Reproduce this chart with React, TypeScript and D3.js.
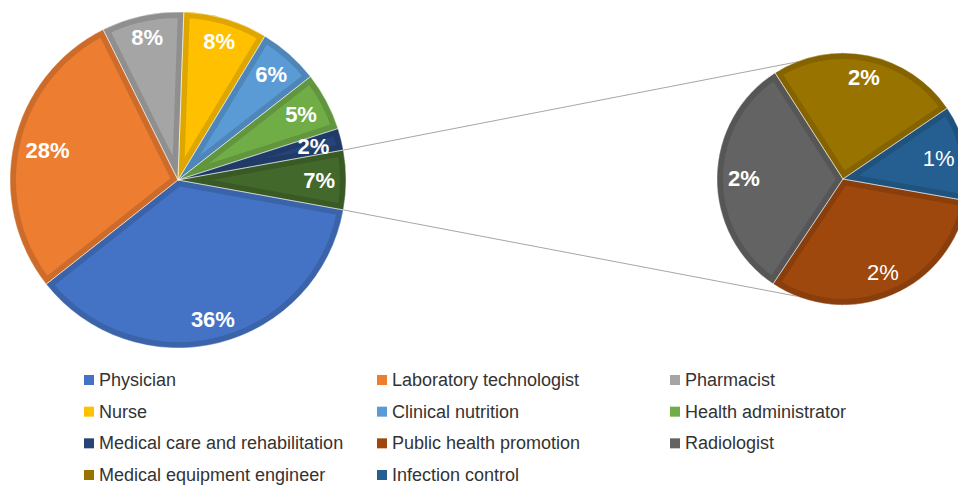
import React from 'react';
import * as d3 from 'd3';

// primary pie
const mainCategories = [
  'Physician',
  'Laboratory technologist',
  'Pharmacist',
  'Nurse',
  'Clinical nutrition',
  'Health administrator',
  'Medical care and rehabilitation',
];
const mainValues = [36.5, 28.3, 7.9, 8.1, 5.8, 5.6, 2.1];
const mainLabels = ['36%', '28%', '8%', '8%', '6%', '5%', '2%'];
const otherLabel = '7%';

// secondary pie (the "Other" slice split out)
const subCategories = [
  'Public health promotion',
  'Radiologist',
  'Medical equipment engineer',
  'Infection control',
];
const subValues = [1.8, 1.8, 1.4, 0.7];
const subLabels = ['2%', '2%', '2%', '1%'];

const mainColors = ['#4472C4', '#ED7D31', '#A5A5A5', '#FFC000', '#5B9BD5', '#70AD47', '#264478'];
const otherColor = '#43682B';
const subColors = ['#9E480E', '#636363', '#997300', '#255E91'];
const subBold = [false, true, true, false];

// legend order as in the reference
const legendItems = [
  'Physician', 'Laboratory technologist', 'Pharmacist',
  'Nurse', 'Clinical nutrition', 'Health administrator',
  'Medical care and rehabilitation', 'Public health promotion', 'Radiologist',
  'Medical equipment engineer', 'Infection control',
];

const width = 958;
const height = 485;
const font = '"Liberation Sans", Arial, sans-serif';

type Slice = { label: string; color: string; bold: boolean; arc: d3.PieArcDatum<number> };

function textWidth(s: string, size: number) {
  let w = 0;
  for (const ch of s) w += ch === '%' ? 0.889 : 0.556;
  return w * size;
}

function PieGroup({ id, cx, cy, r, slices }: { id: string; cx: number; cy: number; r: number; slices: Slice[] }) {
  const arc = d3.arc<d3.PieArcDatum<number>>().innerRadius(0).outerRadius(r);
  const fs = 22;
  const inset = 11;
  return (
    <g transform={`translate(${cx},${cy})`}>
      <defs>
        {slices.map((s, i) => (
          <clipPath id={`${id}-clip-${i}`} key={i}>
            <path d={arc(s.arc) || ''} />
          </clipPath>
        ))}
      </defs>
      {slices.map((s, i) => (
        <path
          key={i}
          d={arc(s.arc) || ''}
          fill={s.color}
          stroke={d3.color(s.color)!.darker(0.4).formatHex()}
          strokeWidth={12}
          clipPath={`url(#${id}-clip-${i})`}
        />
      ))}
      {slices.map((s, i) => (
        <path key={`e${i}`} d={arc(s.arc) || ''} fill="none" stroke="#ffffff" strokeOpacity={0.55} strokeWidth={0.8} />
      ))}
      {slices.map((s, i) => {
        const a = (s.arc.startAngle + s.arc.endAngle) / 2;
        const sa = Math.sin(a);
        const ca = -Math.cos(a);
        const hw = textWidth(s.label, fs) / 2;
        const hh = 8;
        const d = r - inset - (Math.abs(sa) * hw + Math.abs(ca) * hh);
        return (
          <text
            key={`t${i}`}
            x={sa * d}
            y={ca * d}
            textAnchor="middle"
            dominantBaseline="central"
            fontFamily={font}
            fontSize={fs}
            fontWeight={s.bold ? 'bold' : 'normal'}
            fill="#ffffff"
          >
            {s.label}
          </text>
        );
      })}
    </g>
  );
}

export default function App() {
  const cx1 = 178, cy1 = 180, r1 = 168;
  const cx2 = 843, cy2 = 179, r2 = 126;

  const otherValue = d3.sum(subValues);
  const total = d3.sum(mainValues) + otherValue;
  const otherAngle = (otherValue / total) * Math.PI * 2;
  const start1 = Math.PI / 2 + otherAngle / 2;

  const mainArcs = d3.pie<number>().sort(null).value(d => d)
    .startAngle(start1).endAngle(start1 + Math.PI * 2)([...mainValues, otherValue]);

  const mainSlices: Slice[] = mainArcs.map((a, i) => ({
    label: i < mainValues.length ? mainLabels[i] : otherLabel,
    color: i < mainValues.length ? mainColors[i] : otherColor,
    bold: true,
    arc: a,
  }));

  const start2 = (100 * Math.PI) / 180;
  const subArcs = d3.pie<number>().sort(null).value(d => d)
    .startAngle(start2).endAngle(start2 + Math.PI * 2)(subValues);
  const subSlices: Slice[] = subArcs.map((a, i) => ({
    label: subLabels[i],
    color: subColors[i],
    bold: subBold[i],
    arc: a,
  }));

  // connector lines from the edges of the "Other" slice
  const aTop = Math.PI / 2 - otherAngle / 2;
  const aBot = Math.PI / 2 + otherAngle / 2;
  const p1 = [cx1 + Math.sin(aTop) * r1, cy1 - Math.cos(aTop) * r1];
  const p2 = [cx1 + Math.sin(aBot) * r1, cy1 - Math.cos(aBot) * r1];

  const allColors = [...mainColors, ...subColors];
  const allCats = [...mainCategories, ...subCategories];
  const colX = d3.scalePoint<number>().domain([0, 1, 2]).range([84, 670]);
  const rowY = d3.scalePoint<number>().domain([0, 1, 2, 3]).range([380, 475]);

  return (
    <svg width={width} height={height} style={{ position: 'absolute', left: 0, top: 0, background: '#fff' }}>
      <line x1={p1[0]} y1={p1[1]} x2={cx2} y2={cy2 - r2} stroke="#a6a6a6" strokeWidth={1} />
      <line x1={p2[0]} y1={p2[1]} x2={cx2} y2={cy2 + r2} stroke="#a6a6a6" strokeWidth={1} />
      <PieGroup id="main" cx={cx1} cy={cy1} r={r1} slices={mainSlices} />
      <PieGroup id="sub" cx={cx2} cy={cy2} r={r2} slices={subSlices} />
      <g>
        {legendItems.map((name, i) => {
          const x = colX(i % 3)!;
          const y = rowY(Math.floor(i / 3))!;
          const color = allColors[allCats.indexOf(name)];
          return (
            <g key={name} transform={`translate(${x},${y})`}>
              <rect x={0} y={-5} width={10} height={10} fill={color} />
              <text x={15} y={0} dominantBaseline="central" fontFamily={font} fontSize={18} fill="#333333">
                {name}
              </text>
            </g>
          );
        })}
      </g>
    </svg>
  );
}
